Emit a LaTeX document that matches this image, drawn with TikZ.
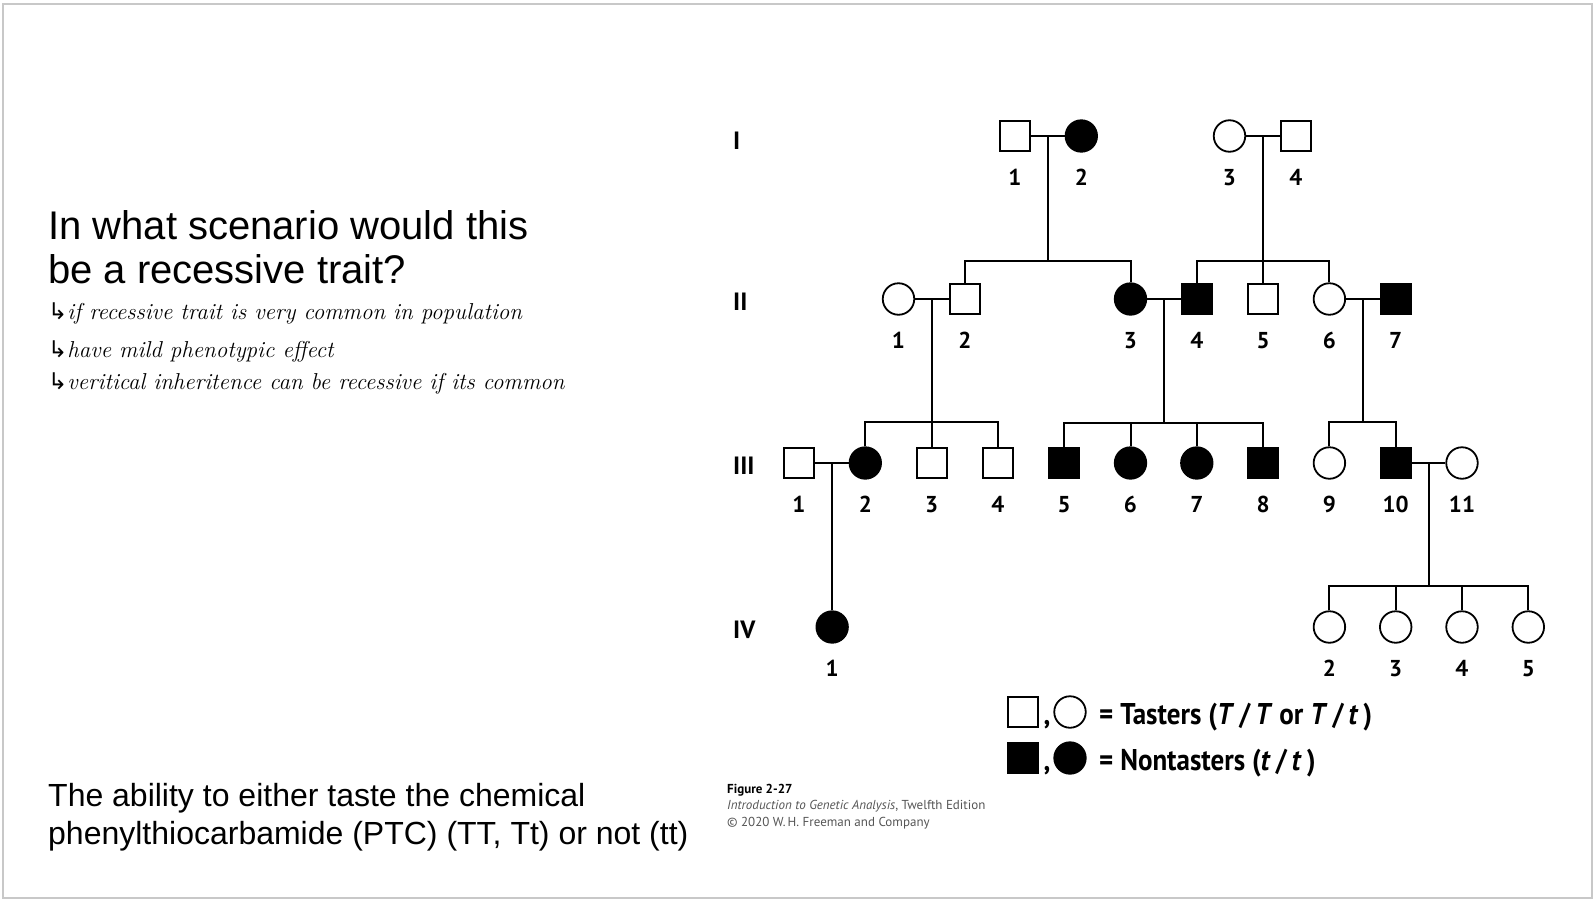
\documentclass[tikz,border=0pt]{standalone}
\usepackage{fontspec}
\usepackage{tikz}
\usetikzlibrary{positioning, calc}
\newfontfamily\slidefont{Liberation Sans}
\newfontfamily\pedfont{PT Sans}
\newfontfamily\keyfont[FakeStretch=0.9]{PT Sans}
\newfontfamily\arrowfont{DejaVu Sans}
\definecolor{slideGray}{RGB}{200, 200, 200}
\definecolor{captionGray}{RGB}{85, 85, 85}

\begin{document}
\begin{tikzpicture}[
    x=1pt, y=-1pt,
    node distance=66.3pt, on grid,
    male/.style={rectangle, draw, line width=1.8pt, minimum size=30pt, inner sep=0pt},
    female/.style={circle, draw, line width=1.8pt, minimum size=31.5pt, inner sep=0pt},
    hit/.style={fill=black},
    num/.style={font=\pedfont\bfseries\fontsize{23}{23}\selectfont, inner sep=0pt, text height=16pt, text depth=0pt},
    gen/.style={font=\pedfont\bfseries\fontsize{25}{25}\selectfont, inner sep=0pt, anchor=west},
    link/.style={line width=2pt},
    keytext/.style={font=\keyfont\bfseries\fontsize{30}{30}\selectfont, inner sep=0pt, anchor=base west},
    handnote/.style={font=\itshape\fontsize{23}{23}\selectfont, inner sep=0pt, anchor=base west},
    every label/.style={num},
    label distance=17pt
]
    \useasboundingbox (0,0) rectangle (1596,902);
    \draw[slideGray, line width=1.5pt] (3,4) rectangle (1592,898);

    \node[anchor=north west, inner sep=0pt, align=left, font=\slidefont\fontsize{40}{44}\selectfont] (question) at (48,210) {In what scenario would this\\be a recessive trait?};
    \node[handnote] (note1) at (48,319) {{\arrowfont ↳}if recessive trait is very common in population};
    \node[handnote] (note2) at (48,357) {{\arrowfont ↳}have mild phenotypic effect};
    \node[handnote] (note3) at (48,389) {{\arrowfont ↳}veritical inheritence can be recessive if its common};
    \node[anchor=north west, inner sep=0pt, align=left, font=\slidefont\fontsize{32}{38}\selectfont] (trait) at (48,783) {The ability to either taste the chemical\\phenylthiocarbamide (PTC) (TT, Tt) or not (tt)};

    \node[gen] (genI) at (733,141) {I};
    \node[gen] (genII) at (733,302) {II};
    \node[gen] (genIII) at (733,466) {III};
    \node[gen] (genIV) at (733,630) {IV};

    \node[male, label=below:1] (i1) at (1015,136) {};
    \node[female, hit, right=of i1, label=below:2] (i2) {};
    \node[female, label=below:3] (i3) at (1229.5,136) {};
    \node[male, right=of i3, label=below:4] (i4) {};

    \node[male, label=below:1] (iii1) at (799,463) {};
    \node[female, hit, right=of iii1, label=below:2] (iii2) {};
    \node[male, right=of iii2, label=below:3] (iii3) {};
    \node[male, right=of iii3, label=below:4] (iii4) {};
    \node[male, hit, right=of iii4, label=below:5] (iii5) {};
    \node[female, hit, right=of iii5, label=below:6] (iii6) {};
    \node[female, hit, right=of iii6, label=below:7] (iii7) {};
    \node[male, hit, right=of iii7, label=below:8] (iii8) {};
    \node[female, right=of iii8, label=below:9] (iii9) {};
    \node[male, hit, right=of iii9, label=below:10] (iii10) {};
    \node[female, right=of iii10, label=below:11] (iii11) {};

    \node[female, label=below:1] (ii1) at (898.5,299) {};
    \node[male, right=of ii1, label=below:2] (ii2) {};
    \node[female, hit, above=164pt of iii6, label=below:3] (ii3) {};
    \node[male, hit, right=of ii3, label=below:4] (ii4) {};
    \node[male, right=of ii4, label=below:5] (ii5) {};
    \node[female, right=of ii5, label=below:6] (ii6) {};
    \node[male, hit, right=of ii6, label=below:7] (ii7) {};

    \node[female, below=164pt of iii9, label=below:2] (iv2) {};
    \node[female, right=of iv2, label=below:3] (iv3) {};
    \node[female, right=of iv3, label=below:4] (iv4) {};
    \node[female, right=of iv4, label=below:5] (iv5) {};
    \coordinate (c6) at ($(iii1)!0.5!(iii2)$);
    \node[female, hit, label=below:1] (iv1) at (c6 |- iv2) {};

    \draw[link] (i1) -- (i2);
    \draw[link] (i3) -- (i4);
    \draw[link] (ii1) -- (ii2);
    \draw[link] (ii3) -- (ii4);
    \draw[link] (ii6) -- (ii7);
    \draw[link] (iii1) -- (iii2);
    \draw[link] (iii10) -- (iii11);

    \coordinate (c1) at ($(i1)!0.5!(i2)$);
    \coordinate (c2) at ($(i3)!0.5!(i4)$);
    \coordinate (c3) at ($(ii1)!0.5!(ii2)$);
    \coordinate (c4) at ($(ii3)!0.5!(ii4)$);
    \coordinate (c5) at ($(ii6)!0.5!(ii7)$);
    \coordinate (c7) at ($(iii10)!0.5!(iii11)$);

    \draw[link] (ii2.north) -- ++(0,-22) coordinate (s1) -| (ii3.north);
    \draw[link] (c1) -- (c1 |- s1);
    \draw[link] (ii4.north) -- ++(0,-22) coordinate (s2) -| (ii6.north);
    \draw[link] (ii5.north) -- (ii5.north |- s2);
    \draw[link] (c2) -- (c2 |- s2);

    \draw[link] (iii2.north) -- ++(0,-24) coordinate (s3) -| (iii4.north);
    \draw[link] (iii3.north) -- (iii3.north |- s3);
    \draw[link] (c3) -- (c3 |- s3);
    \draw[link] (iii5.north) -- ++(0,-24) coordinate (s4) -| (iii8.north);
    \draw[link] (iii6.north) -- (iii6.north |- s4);
    \draw[link] (iii7.north) -- (iii7.north |- s4);
    \draw[link] (c4) -- (c4 |- s4);
    \draw[link] (iii9.north) -- ++(0,-24) coordinate (s5) -| (iii10.north);
    \draw[link] (c5) -- (c5 |- s5);

    \draw[link] (c6) -- (iv1);
    \draw[link] (iv2.north) -- ++(0,-24) coordinate (s7) -| (iv5.north);
    \draw[link] (iv3.north) -- (iv3.north |- s7);
    \draw[link] (iv4.north) -- (iv4.north |- s7);
    \draw[link] (c7) -- (c7 |- s7);

    \node[male] (keyM1) at (1023,712) {};
    \node[female, right=47pt of keyM1] (keyF1) {};
    \node[keytext, anchor=base] (comma1) at (1047,724) {,};
    \node[keytext] (taster) at (1099,724) {= Tasters (\textit{T}\,/\,\textit{T} or \textit{T}\,/\,\textit{t}\,)};
    \node[male, hit, below=46pt of keyM1] (keyM2) {};
    \node[female, hit, right=47pt of keyM2] (keyF2) {};
    \node[keytext, anchor=base] (comma2) at (1047,770) {,};
    \node[keytext] (nontaster) at (1099,770) {= Nontasters (\textit{t}\,/\,\textit{t}\,)};

    \node[anchor=north west, inner sep=0pt, align=left, font=\pedfont\fontsize{13}{16.5}\selectfont, text=captionGray] (source) at (727,784) {{\bfseries\color{black}Figure 2-27}\\\textit{Introduction to Genetic Analysis}, Twelfth Edition\\© 2020 W.\,H. Freeman and Company};
\end{tikzpicture}
\end{document}
